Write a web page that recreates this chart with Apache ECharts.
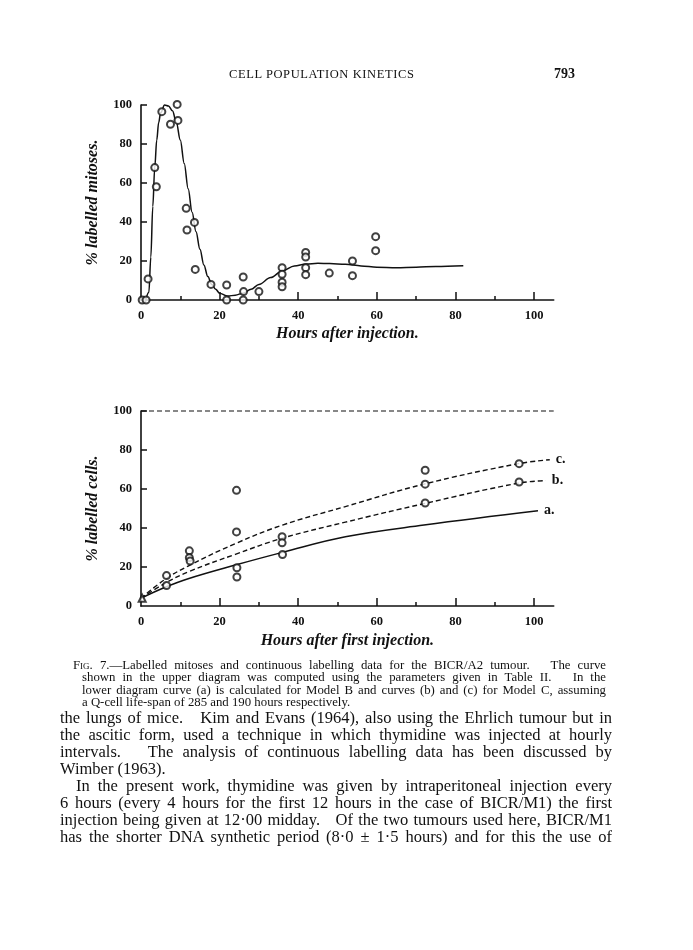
<!DOCTYPE html>
<html><head><meta charset="utf-8">
<script src="https://cdn.jsdelivr.net/npm/echarts@6/dist/echarts.min.js"></script>
<style>
body{margin:0;background:#fff;}
#page{position:relative;width:693px;height:950px;overflow:hidden;background:#fff;}
#chart{position:absolute;left:0;top:0;width:693px;height:950px;}
.t{position:absolute;font-family:"Liberation Serif","Times New Roman",serif;color:#111;white-space:nowrap;}
.j{text-align:justify;text-align-last:justify;white-space:normal;}
.cap{font-size:12.8px;line-height:12.5px;}
.body{font-size:16.5px;line-height:17px;}
</style></head><body>
<div id="page">
<div id="chart"></div>
<div class="t" style="left:229px;top:67px;font-size:12.5px;letter-spacing:0.6px">CELL POPULATION KINETICS</div>
<div class="t" style="left:554px;top:66px;font-size:14px;font-weight:bold">793</div>

<div class="t j cap" style="left:73px;width:533px;top:659px"><span style="font-variant:small-caps">Fig.</span> 7.—Labelled mitoses and continuous labelling data for the BICR/A2 tumour. &nbsp; The curve</div>
<div class="t j cap" style="left:82px;width:524px;top:671px">shown in the upper diagram was computed using the parameters given in Table II. &nbsp; In the</div>
<div class="t j cap" style="left:82px;width:524px;top:684px">lower diagram curve (a) is calculated for Model B and curves (b) and (c) for Model C, assuming</div>
<div class="t cap" style="left:82px;top:696px">a Q-cell life-span of 285 and 190 hours respectively.</div>

<div class="t j body" style="left:60px;width:552px;top:709px">the lungs of mice. &nbsp; Kim and Evans (1964), also using the Ehrlich tumour but in</div>
<div class="t j body" style="left:60px;width:552px;top:726px">the ascitic form, used a technique in which thymidine was injected at hourly</div>
<div class="t j body" style="left:60px;width:552px;top:743px">intervals. &nbsp; The analysis of continuous labelling data has been discussed by</div>
<div class="t body" style="left:60px;top:760px">Wimber (1963).</div>
<div class="t j body" style="left:76px;width:536px;top:777px">In the present work, thymidine was given by intraperitoneal injection every</div>
<div class="t j body" style="left:60px;width:552px;top:794px">6 hours (every 4 hours for the first 12 hours in the case of BICR/M1) the first</div>
<div class="t j body" style="left:60px;width:552px;top:811px">injection being given at 12·00 midday. &nbsp; Of the two tumours used here, BICR/M1</div>
<div class="t j body" style="left:60px;width:552px;top:828px">has the shorter DNA synthetic period (8·0 ± 1·5 hours) and for this the use of</div>
</div>
<script>
// shrink any justified line that would wrap
document.querySelectorAll('.j').forEach(el => {
  const lh = parseFloat(getComputedStyle(el).lineHeight);
  let fs = parseFloat(getComputedStyle(el).fontSize);
  let guard = 0;
  while (el.offsetHeight > lh * 1.5 && guard++ < 40) { fs -= 0.2; el.style.fontSize = fs + 'px'; }
});
// ---- tick / label values ----
const xLabelValues = [0, 20, 40, 60, 80, 100];
const xMajorTicks = [20, 40, 60, 80, 100];
const xMinorTicks = [10, 30, 50, 70, 90];
const yLabelValues = [0, 20, 40, 60, 80, 100];
const yTickValues = [20, 40, 60, 80, 100];

// ---- upper diagram: labelled mitoses ----
const mitosesPoints = [
  [0.3,0],[1.3,0],[1.8,10.8],[3.5,67.9],[3.9,58.1],[5.3,96.6],[7.5,90.1],[9.2,100.3],[9.4,92.1],
  [11.5,47],[11.7,35.9],[13.6,39.8],[13.8,15.7],[17.8,8],[21.8,7.7],[21.8,0],
  [26,11.8],[26.1,4.3],[26,0],[30,4.3],[35.9,16.6],[35.9,13.2],[35.9,9.1],[35.9,6.8],
  [41.9,24.4],[41.9,22],[41.9,16.6],[41.9,13],[47.9,13.8],[53.8,20],[53.8,12.5],[59.7,32.5],[59.7,25.3]
];
const mitosesCurveX = [1.2,2,2.5,3,3.5,4,4.5,5,6,7,8,9,10,11,12,13,14,15,16,17,18,19,20,22,24,26,28,30,33,36,39,42,45,48,52,56,60,65,70,75,82];
const mitosesCurveY = [0,4,22,48,68,82,91,96,100,99.5,97,91,82,70,57,45,35,26,18,12,8,5.5,3.5,2,2.5,3.5,5.5,8,11.5,15,17.5,18.5,18.8,18.7,18.3,17.5,16.8,16.5,16.8,17.2,17.6];

// ---- lower diagram: continuous labelling ----
const cellPoints = [
  [6.5,15.6],[6.5,10.5],[12.3,28.3],[12.3,24.8],[12.5,23.1],[24.3,59.3],[24.3,38],[24.4,19.6],[24.4,14.9],
  [35.9,35.5],[35.9,32.4],[36,26.4],[72.3,69.6],[72.3,62.5],[72.3,52.8],[96.2,73],[96.2,63.6]
];
const originPoint = [[0.3,4]];
const ceilingX = [0, 105];
const ceilingY = [100, 100];
const curveAX = [0,6,12,24,36,52,72,101];
const curveAY = [4,9.5,14,21,27.5,35.5,41.5,48.8];
const curveBX = [0,6,12,24,36,52,72,96,103];
const curveBY = [4,11.5,17.5,26.5,34.8,43,52.5,63,64.3];
const curveCX = [0,6,12,24,36,52,72,96,104];
const curveCY = [4,13.5,20.5,32,41.5,51,62.5,73,75];

const zip = (xs, ys) => xs.map((x, i) => [x, ys[i]]);
const F = '"Liberation Serif","DejaVu Serif",serif';
const black = '#111';

function xMain(g, name, gap) {
  return {
    type: 'value', gridIndex: g, min: 0, max: 105, position: 'bottom',
    axisLine: { show: true, onZero: false, lineStyle: { color: black, width: 1.6 } },
    axisTick: { show: true, inside: true, length: 8, customValues: xMajorTicks, lineStyle: { color: black, width: 1.5 } },
    axisLabel: { customValues: xLabelValues, margin: 9, color: black, fontFamily: F, fontWeight: 'bold', fontSize: 12.5 },
    splitLine: { show: false },
    name: name, nameLocation: 'middle', nameGap: gap,
    nameTextStyle: { color: black, fontFamily: F, fontWeight: 'bold', fontStyle: 'italic', fontSize: 16 }
  };
}
function xMinor(g) {
  return {
    type: 'value', gridIndex: g, min: 0, max: 105, position: 'bottom',
    axisLine: { show: false },
    axisTick: { show: true, inside: true, length: 4, customValues: xMinorTicks, lineStyle: { color: black, width: 1.5 } },
    axisLabel: { show: false }, splitLine: { show: false }
  };
}
function yMain(g, name) {
  return {
    type: 'value', gridIndex: g, min: 0, max: 100,
    axisLine: { show: true, onZero: false, lineStyle: { color: black, width: 1.6 } },
    axisTick: { show: true, inside: true, length: 6, customValues: yTickValues, lineStyle: { color: black, width: 1.5 } },
    axisLabel: { customValues: yLabelValues, margin: 9, color: black, fontFamily: F, fontWeight: 'bold', fontSize: 12.5 },
    splitLine: { show: false },
    name: name, nameLocation: 'middle', nameGap: 40,
    nameTextStyle: { color: black, fontFamily: F, fontWeight: 'bold', fontStyle: 'italic', fontSize: 16 }
  };
}
const pointStyle = { color: black, borderWidth: 1.3 };
function endLab(t) {
  return { show: true, formatter: t, distance: 6, color: black, fontFamily: F, fontWeight: 'bold', fontSize: 14 };
}

const chart = echarts.init(document.getElementById('chart'), null, { renderer: 'canvas' });
chart.setOption({
  animation: false,
  backgroundColor: 'transparent',
  grid: [
    { left: 141, top: 105, width: 412.7, height: 195 },
    { left: 141, top: 411, width: 412.7, height: 195 }
  ],
  xAxis: [xMain(0, 'Hours after injection.', 26), xMinor(0), xMain(1, 'Hours after first injection.', 27), xMinor(1)],
  yAxis: [yMain(0, '% labelled mitoses.'), yMain(1, '% labelled cells.')],
  series: [
    { type: 'line', xAxisIndex: 0, yAxisIndex: 0, data: zip(mitosesCurveX, mitosesCurveY), smooth: 0.35, smoothMonotone: 'x',
      showSymbol: false, lineStyle: { color: black, width: 1.5 }, clip: false, z: 2 },
    { type: 'scatter', xAxisIndex: 0, yAxisIndex: 0, data: mitosesPoints, symbol: 'emptyCircle', symbolSize: 7,
      itemStyle: pointStyle, clip: false, z: 3 },
    { type: 'line', xAxisIndex: 2, yAxisIndex: 1, data: zip(ceilingX, ceilingY), showSymbol: false,
      lineStyle: { color: black, width: 1.2, type: [5, 3] }, clip: false },
    { type: 'line', xAxisIndex: 2, yAxisIndex: 1, data: zip(curveAX, curveAY), smooth: 0.4, showSymbol: false,
      lineStyle: { color: black, width: 1.5 }, endLabel: endLab('a.') },
    { type: 'line', xAxisIndex: 2, yAxisIndex: 1, data: zip(curveBX, curveBY), smooth: 0.4, showSymbol: false,
      lineStyle: { color: black, width: 1.4, type: [5, 3] }, endLabel: endLab('b.') },
    { type: 'line', xAxisIndex: 2, yAxisIndex: 1, data: zip(curveCX, curveCY), smooth: 0.4, showSymbol: false,
      lineStyle: { color: black, width: 1.4, type: [5, 3] }, endLabel: endLab('c.') },
    { type: 'scatter', xAxisIndex: 2, yAxisIndex: 1, data: cellPoints, symbol: 'emptyCircle', symbolSize: 7,
      itemStyle: pointStyle, clip: false, z: 3 },
    { type: 'scatter', xAxisIndex: 2, yAxisIndex: 1, data: originPoint, symbol: 'emptyTriangle', symbolSize: 7,
      itemStyle: pointStyle, clip: false, z: 3 }
  ]
});
</script>
</body></html>
